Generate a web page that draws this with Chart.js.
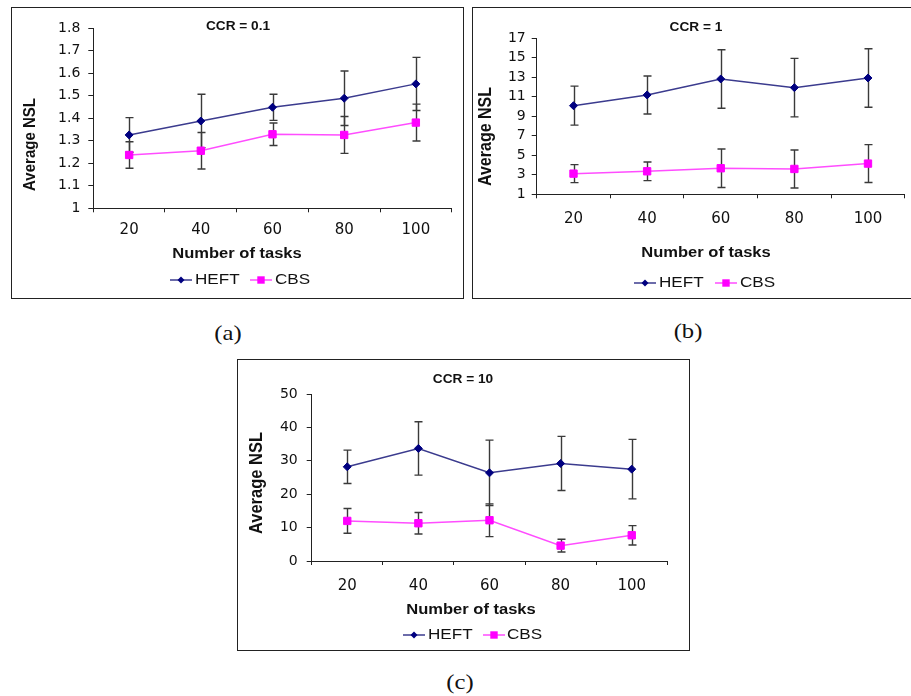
<!DOCTYPE html>
<html><head><meta charset="utf-8">
<script src="https://cdn.jsdelivr.net/npm/chart.js@4.4.1/dist/chart.umd.min.js"></script>
<style>
html,body{margin:0;padding:0;background:#fff;width:911px;height:696px;overflow:hidden;position:relative;}
.box{position:absolute;box-sizing:border-box;border:1px solid #222;}
canvas{position:absolute;}
.cap{position:absolute;width:100px;text-align:center;font-family:"Liberation Serif",serif;font-size:22px;line-height:22px;color:#111;transform:scaleX(1.12);white-space:nowrap;}
</style></head><body>
<div class="box" style="left:11px;top:7px;width:453px;height:292px;"></div>
<div class="box" style="left:472px;top:7px;width:450px;height:292px;"></div>
<div class="box" style="left:237px;top:359px;width:453px;height:292px;"></div>
<canvas id="ca" width="452" height="291" style="left:11px;top:7px;"></canvas>
<canvas id="cb" width="439" height="291" style="left:472px;top:7px;"></canvas>
<canvas id="cc" width="453" height="291" style="left:237px;top:359px;"></canvas>
<div class="cap" style="left:178px;top:322px;">(a)</div>
<div class="cap" style="left:638px;top:320px;">(b)</div>
<div class="cap" style="left:410px;top:671px;">(c)</div>
<script>
// ---- data ----
const categories = ['20', '40', '60', '80', '100'];
const seriesNames = ['HEFT', 'CBS'];
const panelTitles = ['CCR = 0.1', 'CCR = 1', 'CCR = 10'];
const xAxisTitle = 'Number of tasks';
const yAxisTitle = 'Average NSL';

const heftA = [1.326, 1.388, 1.449, 1.489, 1.553];
const heftErrA = [0.077, 0.119, 0.058, 0.121, 0.118];
const cbsA = [1.237, 1.256, 1.329, 1.326, 1.381];
const cbsErrA = [0.059, 0.081, 0.050, 0.082, 0.082];
const yTicksA = [1, 1.1, 1.2, 1.3, 1.4, 1.5, 1.6, 1.7, 1.8];
const yTickLabelsA = ['1', '1.1', '1.2', '1.3', '1.4', '1.5', '1.6', '1.7', '1.8'];

const heftB = [10.09, 11.19, 12.83, 11.94, 12.93];
const heftErrB = [2.0, 1.95, 3.0, 3.0, 3.0];
const cbsB = [3.12, 3.36, 3.67, 3.60, 4.15];
const cbsErrB = [0.92, 0.96, 1.98, 1.95, 1.94];
const yTicksB = [1, 3, 5, 7, 9, 11, 13, 15, 17];
const yTickLabelsB = ['1', '3', '5', '7', '9', '11', '13', '15', '17'];

const heftC = [28.2, 33.7, 26.4, 29.2, 27.5];
const heftErrC = [5.0, 8.0, 9.8, 8.1, 8.9];
const cbsC = [12.0, 11.3, 12.2, 4.6, 7.7];
const cbsErrC = [3.7, 3.2, 4.9, 1.9, 2.9];
const yTicksC = [0, 10, 20, 30, 40, 50];
const yTickLabelsC = ['0', '10', '20', '30', '40', '50'];

// ---- styles ----
const HEFT_LINE = '#3b3b8e', HEFT_MARK = '#000080';
const CBS_LINE = '#ff4dff', CBS_MARK = '#ff00ff';
const AX = '#222';

function sText(ctx, text, x, y, font, align, sx) {
  ctx.save();
  ctx.font = font; ctx.fillStyle = '#111'; ctx.textBaseline = 'middle'; ctx.textAlign = align;
  ctx.translate(x, y); ctx.scale(sx, 1); ctx.fillText(text, 0, 0);
  ctx.restore();
}

const decor = {
  id: 'decor',
  beforeDatasetsDraw(chart, args, o) {
    const ctx = chart.ctx, xs = chart.scales.x, ys = chart.scales.y;
    ctx.save();
    ctx.strokeStyle = '#3a3a3a'; ctx.lineWidth = 1.4;
    o.errors.forEach((errs, di) => {
      chart.data.datasets[di].data.forEach((v, j) => {
        const x = Math.round(xs.getPixelForValue(j)) + 0.5;
        const y1 = ys.getPixelForValue(v + errs[j]);
        const y2 = ys.getPixelForValue(v - errs[j]);
        ctx.beginPath();
        ctx.moveTo(x, y1); ctx.lineTo(x, y2);
        ctx.moveTo(x - 4, y1); ctx.lineTo(x + 4, y1);
        ctx.moveTo(x - 4, y2); ctx.lineTo(x + 4, y2);
        ctx.stroke();
      });
    });
    ctx.restore();
  },
  afterDraw(chart, args, o) {
    const ctx = chart.ctx, ox = o.ox, oy = o.oy;
    sText(ctx, o.title, o.tx - ox, o.ty - oy, 'bold 12px "Liberation Sans"', 'center', 1.14);
    sText(ctx, xAxisTitle, o.xtx - ox, o.xty - oy, 'bold 14.5px "Liberation Sans"', 'center', 1.14);
    ctx.save();
    ctx.translate(o.ytx - ox, o.yty - oy); ctx.rotate(-Math.PI / 2);
    ctx.font = 'bold ' + o.ytSize + 'px "Liberation Sans"'; ctx.fillStyle = '#111';
    ctx.textAlign = 'center'; ctx.textBaseline = 'middle';
    ctx.scale(1, 1.1);
    ctx.fillText(yAxisTitle, 0, 0);
    ctx.restore();
    // legend
    o.legend.forEach((it, i) => {
      const y = o.ly - oy, x1 = it.x1 - ox, x2 = it.x2 - ox, cx = (x1 + x2) / 2;
      ctx.save();
      ctx.strokeStyle = i === 0 ? HEFT_LINE : CBS_LINE; ctx.lineWidth = 1.5;
      ctx.beginPath(); ctx.moveTo(x1, y); ctx.lineTo(x2, y); ctx.stroke();
      ctx.fillStyle = i === 0 ? HEFT_MARK : CBS_MARK;
      ctx.beginPath();
      if (i === 0) { ctx.moveTo(cx - 3.5, y); ctx.lineTo(cx, y - 3.5); ctx.lineTo(cx + 3.5, y); ctx.lineTo(cx, y + 3.5); ctx.closePath(); }
      else { ctx.rect(cx - 3.7, y - 3.7, 7.4, 7.4); }
      ctx.fill();
      ctx.restore();
      sText(ctx, seriesNames[i], it.tx - ox, y, '15px "Liberation Sans"', 'left', 1.14);
    });
  }
};

function makePanel(id, box, area, heft, heftErr, cbs, cbsErr, yTicks, yLabels, deco, xpad, ypad) {
  const cv = document.getElementById(id);
  return new Chart(cv, {
    type: 'line',
    data: {
      labels: categories,
      datasets: [
        { label: seriesNames[0], data: heft, borderColor: HEFT_LINE, borderWidth: 1.5,
          pointStyle: 'rectRot', pointRadius: 4, pointBackgroundColor: HEFT_MARK, pointBorderColor: HEFT_MARK,
          pointBorderWidth: 1, tension: 0, fill: false },
        { label: seriesNames[1], data: cbs, borderColor: CBS_LINE, borderWidth: 1.5,
          pointStyle: 'rect', pointRadius: 5.2, pointBackgroundColor: CBS_MARK, pointBorderColor: CBS_MARK,
          pointBorderWidth: 1, tension: 0, fill: false }
      ]
    },
    options: {
      responsive: false, animation: false, devicePixelRatio: 1, events: [],
      layout: { padding: { left: 0, top: area.T - box.top, right: box.left + box.w - area.R, bottom: 0 } },
      plugins: {
        legend: { display: false }, title: { display: false }, tooltip: { enabled: false },
        decor: Object.assign({ ox: box.left, oy: box.top, errors: [heftErr, cbsErr] }, deco)
      },
      scales: {
        x: {
          type: 'category', offset: true,
          grid: { offset: true, drawOnChartArea: false, drawTicks: true, tickLength: 4, color: AX },
          border: { color: AX, width: 1 },
          ticks: { color: '#111', font: { family: 'DejaVu Sans', size: 15 }, padding: xpad, maxRotation: 0, autoSkip: false },
          afterFit(s) { s.height = box.top + box.h - area.B; }
        },
        y: {
          type: 'linear', min: yTicks[0], max: yTicks[yTicks.length - 1],
          afterBuildTicks(s) { s.ticks = yTicks.map(v => ({ value: v })); },
          ticks: { color: '#111', font: { family: 'DejaVu Sans', size: 14 }, padding: ypad, autoSkip: false,
                   callback: (v, i) => yLabels[i] },
          grid: { drawOnChartArea: false, drawTicks: true, tickLength: 5, color: AX },
          border: { color: AX, width: 1 },
          afterFit(s) { s.width = area.L - box.left; }
        }
      }
    },
    plugins: [decor]
  });
}

makePanel('ca', { left: 11, top: 7, w: 452, h: 291 }, { L: 93.3, R: 451.7, T: 28.3, B: 208.3 },
  heftA, heftErrA, cbsA, cbsErrA, yTicksA, yTickLabelsA,
  { title: panelTitles[0], tx: 238, ty: 27, xtx: 237, xty: 254, ytx: 30, yty: 144.5, ytSize: 15,
    ly: 280, legend: [{ x1: 170, x2: 192, tx: 195 }, { x1: 250, x2: 272, tx: 275 }] }, 9, 8);

makePanel('cb', { left: 472, top: 7, w: 439, h: 291 }, { L: 536.7, R: 910, T: 38.3, B: 194.3 },
  heftB, heftErrB, cbsB, cbsErrB, yTicksB, yTickLabelsB,
  { title: panelTitles[1], tx: 696, ty: 28, xtx: 706, xty: 252.7, ytx: 486, yty: 136.5, ytSize: 16,
    ly: 283, legend: [{ x1: 634, x2: 656, tx: 659 }, { x1: 715, x2: 737, tx: 740 }] }, 12, 6);

makePanel('cc', { left: 237, top: 359, w: 453, h: 291 }, { L: 311.7, R: 667.3, T: 394, B: 561 },
  heftC, heftErrC, cbsC, cbsErrC, yTicksC, yTickLabelsC,
  { title: panelTitles[2], tx: 463, ty: 380, xtx: 471, xty: 610, ytx: 256.7, yty: 483, ytSize: 16.5,
    ly: 635, legend: [{ x1: 403, x2: 425, tx: 428 }, { x1: 483, x2: 505, tx: 507 }] }, 12, 9);
</script>
</body></html>
